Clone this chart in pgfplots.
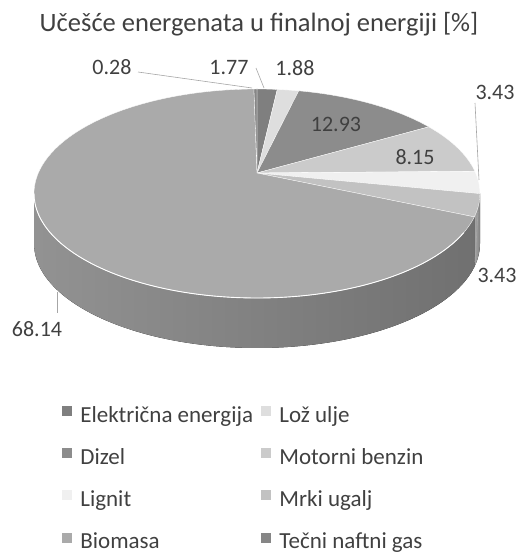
\documentclass[border=0pt]{standalone}
\usepackage{pgfplots}
\pgfplotsset{compat=1.18}
\usepackage{fontspec}
\setmainfont{Carlito}
\definecolor{txt}{HTML}{404040}
\definecolor{lead}{HTML}{A6A6A6}
\definecolor{cE}{HTML}{7F7F7F}
\definecolor{cL}{HTML}{DEDEDE}
\definecolor{cD}{HTML}{8C8C8C}
\definecolor{cM}{HTML}{CBCBCB}
\definecolor{cLg}{HTML}{F0F0F0}
\definecolor{cMr}{HTML}{C2C2C2}
\definecolor{cB}{HTML}{AAAAAA}
\definecolor{cT}{HTML}{868686}
% perspective: true angle (deg from top, clockwise) -> ellipse parameter angle
\newcommand\calcT[2]{%
  \pgfmathsetmacro\uu{sin(#1)}%
  \pgfmathsetmacro\vv{cos(#1)}%
  \pgfmathsetmacro\den{1+0.196*\vv}%
  \pgfmathsetmacro\ppx{218.7*\uu/\den}%
  \pgfmathsetmacro\ppy{20.5+100.5*\vv/\den}%
  \pgfmathsetmacro#2{atan2(\ppy/104.5,\ppx/223)}%
}
\newcommand\slices{1.77/cE,1.88/cL,12.93/cD,8.15/cM,3.43/cLg,3.43/cMr,68.14/cB,0.28/cT}
\begin{document}
\begin{tikzpicture}
\begin{axis}[x=1pt,y=1pt,xmin=0,xmax=519,ymin=0,ymax=555,hide axis,clip=false,
  legend columns=2, legend cell align=left,
  legend style={at={(axis cs:62,149)}, anchor=north west, draw=none, fill=none,
    inner sep=0pt, outer sep=0pt, font=\fontsize{23}{27}\selectfont, text=txt,
    column sep=9pt, row sep=22pt,
    /tikz/every even column/.append style={column sep=8pt},
    nodes={inner sep=0pt, outer sep=0pt, text height=15pt, text depth=4pt}}]
\coordinate (BL) at (axis cs:0,0);
\coordinate (TR) at (axis cs:519,555);
% side walls
\pgfplotsextra{%
 \gdef\cum{0}%
 \foreach \v/\col in \slices {%
   \pgfmathsetmacro\phA{\cum*3.6}%
   \pgfmathsetmacro\phB{(\cum+\v)*3.6}%
   \pgfmathsetmacro\newcum{\cum+\v}\xdef\cum{\newcum}%
   \calcT{\phA}{\tA}\calcT{\phB}{\tB}%
   \pgfmathsetmacro\tB{\tB>\tA ? \tB-360 : \tB}%
   \pgfmathsetmacro\sa{min(\tA,0)}%
   \pgfmathsetmacro\sb{max(\tB,-180)}%
   \pgfmathtruncatemacro\vis{\sa>\sb+0.01 ? 1 : 0}%
   \ifnum\vis=1
     \pgfmathsetmacro\xS{257+223*cos(\sa)}%
     \pgfmathsetmacro\yS{361.5+104.5*sin(\sa)}%
     \fill[left color=\col!86!black, right color=\col!66!black]
       (axis cs:\xS,\yS) arc[start angle=\sa, end angle=\sb, x radius=223pt, y radius=104.5pt]
       -- ++(0pt,-50pt) arc[start angle=\sb, end angle=\sa, x radius=223pt, y radius=104.5pt] -- cycle;
   \fi
 }%
}
% top faces
\pgfplotsextra{%
 \gdef\cum{0}%
 \foreach \v/\col in \slices {%
   \pgfmathsetmacro\phA{\cum*3.6}%
   \pgfmathsetmacro\phB{(\cum+\v)*3.6}%
   \pgfmathsetmacro\newcum{\cum+\v}\xdef\cum{\newcum}%
   \calcT{\phA}{\tA}\calcT{\phB}{\tB}%
   \pgfmathsetmacro\tB{\tB>\tA ? \tB-360 : \tB}%
   \pgfmathsetmacro\xA{257+223*cos(\tA)}%
   \pgfmathsetmacro\yA{361.5+104.5*sin(\tA)}%
   \fill[\col, draw=white, line width=0.3pt] (axis cs:257,382) -- (axis cs:\xA,\yA)
     arc[start angle=\tA, end angle=\tB, x radius=223pt, y radius=104.5pt] -- cycle;
 }%
 \draw[white, line width=0.9pt] (axis cs:34,361.5) arc[start angle=180, end angle=338, x radius=223pt, y radius=104.5pt];
}
% leader lines
\draw[lead, line width=0.6pt] (axis cs:138,483) -- (axis cs:252,467);
\draw[lead, line width=0.6pt] (axis cs:256,487) -- (axis cs:264,467);
\draw[lead, line width=0.6pt] (axis cs:475,452) -- (axis cs:479,375);
\draw[lead, line width=0.6pt] (axis cs:475,293) -- (axis cs:478,343);
\draw[lead, line width=0.6pt] (axis cs:57,263) -- (axis cs:57,242);
% labels
\node[anchor=base, text=txt, font=\fontsize{26.5}{30}\selectfont] at (axis cs:259,523) {Učešće energenata u finalnoj energiji [\%]};
\begin{scope}[every node/.style={anchor=base, text=txt, font=\fontsize{22}{26}\selectfont}]
\node at (axis cs:112,480) {0.28};
\node at (axis cs:229,480) {1.77};
\node at (axis cs:295,479) {1.88};
\node at (axis cs:495,455) {3.43};
\node at (axis cs:336,423) {12.93};
\node at (axis cs:415,390) {8.15};
\node at (axis cs:497,272) {3.43};
\node at (axis cs:37,218) {68.14};
\end{scope}
% legend
\addlegendimage{legend image code/.code={\fill[cE] (0pt,1.5pt) rectangle (9pt,10.5pt);}}
\addlegendentry{Električna energija}
\addlegendimage{legend image code/.code={\fill[cL] (0pt,1.5pt) rectangle (9pt,10.5pt);}}
\addlegendentry{Lož ulje}
\addlegendimage{legend image code/.code={\fill[cD] (0pt,1.5pt) rectangle (9pt,10.5pt);}}
\addlegendentry{Dizel}
\addlegendimage{legend image code/.code={\fill[cM] (0pt,1.5pt) rectangle (9pt,10.5pt);}}
\addlegendentry{Motorni benzin}
\addlegendimage{legend image code/.code={\fill[cLg] (0pt,1.5pt) rectangle (9pt,10.5pt);}}
\addlegendentry{Lignit}
\addlegendimage{legend image code/.code={\fill[cMr] (0pt,1.5pt) rectangle (9pt,10.5pt);}}
\addlegendentry{Mrki ugalj}
\addlegendimage{legend image code/.code={\fill[cB] (0pt,1.5pt) rectangle (9pt,10.5pt);}}
\addlegendentry{Biomasa}
\addlegendimage{legend image code/.code={\fill[cT] (0pt,1.5pt) rectangle (9pt,10.5pt);}}
\addlegendentry{Tečni naftni gas}
\end{axis}
\pgfresetboundingbox
\path (BL) rectangle (TR);
\end{tikzpicture}
\end{document}
